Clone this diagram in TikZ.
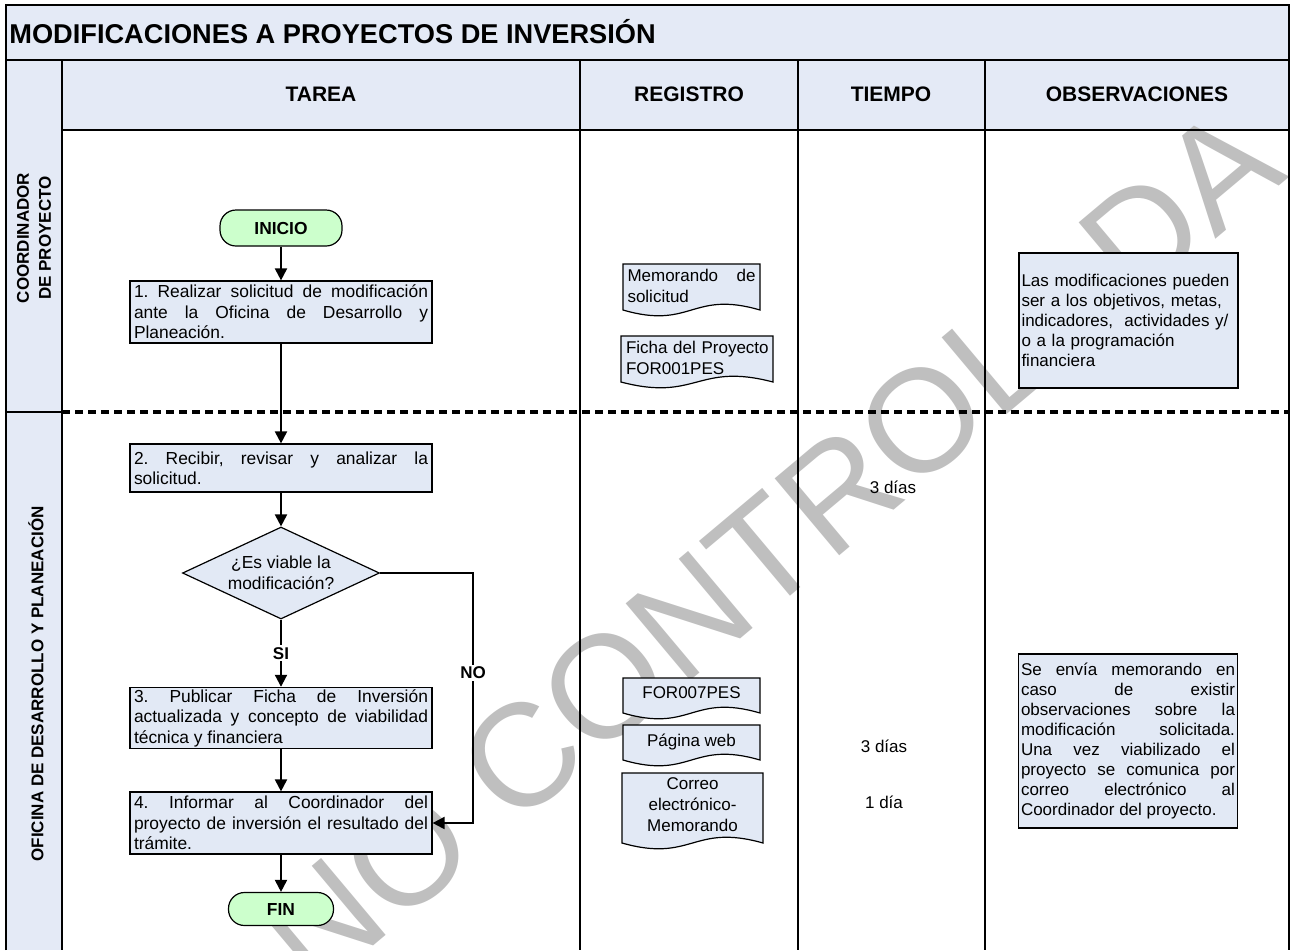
\documentclass[tikz,border=0pt]{standalone}
\usepackage{fontspec}
\setmainfont{Liberation Sans}
\usetikzlibrary{shapes.geometric,arrows.meta}
\hyphenpenalty=10000
\exhyphenpenalty=10000
\frenchspacing

\definecolor{cellblue}{RGB}{228,234,246}
\definecolor{boxblue}{RGB}{226,233,245}
\definecolor{termgreen}{RGB}{204,255,204}

\begin{document}
\begin{tikzpicture}[x=0.5pt,y=-0.5pt,
			rule/.style={line width=1pt},
			lane rule/.style={line width=1.6pt,dash pattern=on 4pt off 2.5pt},
			head/.style={font=\bfseries\fontsize{10.5}{12}\selectfont},
			lane label/.style={rotate=90,align=center,font=\bfseries\fontsize{8.5}{11}\selectfont},
			task/.style={rectangle,draw,line width=0.6pt,fill=boxblue,text width=147pt,align=justify,inner xsep=2pt,inner ysep=1pt,font=\fontsize{8.7}{10.2}\selectfont},
			term/.style={rectangle,rounded corners=8pt,draw,line width=0.6pt,fill=termgreen,font=\bfseries\fontsize{8.7}{10}\selectfont},
			decision/.style={diamond,draw,line width=0.6pt,fill=boxblue,aspect=2.14,inner sep=0pt,minimum width=98.5pt,minimum height=46pt,align=center,font=\fontsize{8.7}{10.5}\selectfont},
			doc line/.style={draw,line width=0.6pt,fill=boxblue},
			doc text/.style={font=\fontsize{8.5}{10.5}\selectfont},
			obs/.style={rectangle,draw,line width=0.6pt,fill=boxblue,text width=107pt,inner xsep=1.25pt,font=\fontsize{8.5}{10}\selectfont},
			time/.style={font=\fontsize{8.5}{10}\selectfont},
			answer/.style={fill=white,inner sep=1pt,font=\bfseries\fontsize{8.5}{10}\selectfont},
			flow/.style={-{Triangle[width=6pt,length=6pt]},line width=1pt},
			wmark/.style={rotate=40,text=gray!50,font=\fontsize{73}{73}\selectfont}
			]
			
			\useasboundingbox (0,0) rectangle (1291,950);
			\clip (0,0) rectangle (1291,950);
			
			% cell backgrounds
			\fill[cellblue] (6,5) rectangle (1289,60);
			\fill[cellblue] (62,60) rectangle (1289,130);
			\fill[cellblue] (6,60) rectangle (62,950);
			
			\node[wmark] (wm) at (770,548) {NO CONTROLADA};
			
			% table rules
			\draw[rule] (6,950) -- (6,5) -- (1289,5) -- (1289,950);
			\draw[rule] (6,60) -- (1289,60);
			\draw[rule] (62,130) -- (1289,130);
			\foreach \c in {62,580,798,985}
				\draw[rule] (\c,60) -- (\c,950);
			\draw[line width=0.6pt] (6,412) -- (62,412);
			\draw[lane rule] (62,412) -- (1289,412);
			
			\node[anchor=west,inner xsep=0pt,font=\bfseries\fontsize{13.6}{15}\selectfont] (title) at (9,32) {MODIFICACIONES A PROYECTOS DE INVERSIÓN};
			\node[head] (htarea) at (321,94) {TAREA};
			\node[head] (hreg) at (689,94) {REGISTRO};
			\node[head] (htiempo) at (891,94) {TIEMPO};
			\node[head] (hobs) at (1137,94) {OBSERVACIONES};
			
			\node[lane label] (coord) at (34,238) {COORDINADOR\\DE PROYECTO};
			\node[lane label] (odp) at (36,684) {OFICINA DE DESARROLLO Y PLANEACIÓN};
			
			% flow
			\node[term,minimum width=61pt,minimum height=18pt] (ini) at (281,228) {INICIO};
			\node[task,minimum height=31pt] (t1) at (281,312) {1. Realizar solicitud de modificación\linebreak ante la Oficina de Desarrollo y\linebreak Planeación.};
			\node[task,minimum height=24pt] (t2) at (281,468) {2. Recibir, revisar y analizar la\linebreak solicitud.};
			\node[decision] (dec) at (281,573) {¿Es viable la\\modificación?};
			\node[task,minimum height=30pt] (t3) at (281,718) {3. Publicar Ficha de Inversión\linebreak actualizada y concepto de viabilidad\linebreak técnica y financiera};
			\node[task,minimum height=31pt] (t4) at (281,823) {4. Informar al Coordinador del\linebreak proyecto de inversión el resultado del\linebreak trámite.};
			\node[term,minimum width=52.5pt,minimum height=16.5pt] (fin) at (281,909) {FIN};
			\coordinate (nobend) at (473,573);
			
			\draw[flow] (ini) -- (t1);
			\draw[flow] (t1) -- (t2);
			\draw[flow] (t2) -- (dec);
			\draw[flow] (dec) -- node[answer] {SI} (t3);
			\draw[flow] (t3) -- (t4);
			\draw[flow] (t4) -- (fin);
			\draw[flow] (dec.east) -- (nobend) -- node[answer,pos=0.4] {NO} (nobend |- t4.east) -- (t4.east);
			
			% documents
			\foreach \x/\y/\w/\h in {623/264/137/46, 621/336/152/46, 623/678/137/35, 623/725/137/35, 622/773/141/70}
				\draw[doc line] (\x,\y) -- ({\x+\w},\y) -- ({\x+\w},{\y+\h}) .. controls +(-\w/2,-20) and +(\w/2,20) .. (\x,{\y+\h}) -- cycle;
			\node[doc text,text width=64pt,align=justify] (memo) at (691.5,285.5) {Memorando de\linebreak solicitud};
			\node[doc text,text width=74pt,align=left] (ficha) at (700,357.5) {Ficha del Proyecto\\FOR001PES};
			\node[doc text] (for7) at (691.5,693) {FOR007PES};
			\node[doc text] (web) at (691.5,742) {Página web};
			\node[doc text,align=center] (correo) at (692.5,804.5) {Correo\\electrónico-\\Memorando};
			
			% tiempo
			\node[time] (d1) at (893,487) {3 días};
			\node[time] (d2) at (884,746) {3 días};
			\node[time] (d3) at (884,802) {1 día};
			
			% observaciones
			\node[obs,align=left,minimum height=67.5pt] (obs1) at (1128.5,320.5) {Las modificaciones pueden\\ser a los objetivos, metas,\\indicadores,\ \ actividades y/\\o a la programación\\financiera};
			\node[obs,align=justify,minimum height=87pt] (obs2) at (1128,741) {Se envía memorando en\linebreak caso de existir\linebreak observaciones sobre la\linebreak modificación solicitada.\linebreak Una vez viabilizado el\linebreak proyecto se comunica por\linebreak correo electrónico al\linebreak Coordinador del proyecto.};
			
			\end{tikzpicture}
\end{document}
